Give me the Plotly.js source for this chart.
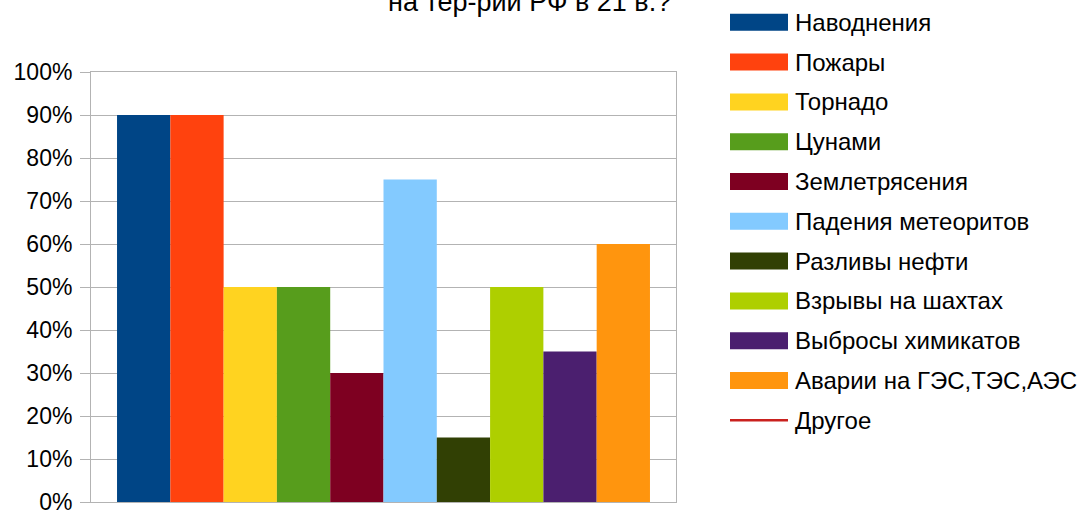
<!DOCTYPE html>
<html>
<head>
<meta charset="utf-8">
<script src="https://cdn.plot.ly/plotly-3.0.1.min.js"></script>
<style>html,body{margin:0;padding:0;background:#fff;}#chart{width:1085px;height:510px;}</style>
</head>
<body>
<div id="chart"></div>
<script>
const seriesNames = ["Наводнения","Пожары","Торнадо","Цунами","Землетрясения","Падения метеоритов","Разливы нефти","Взрывы на шахтах","Выбросы химикатов","Аварии на ГЭС,ТЭС,АЭС"];
const seriesValues = [0.90, 0.90, 0.50, 0.50, 0.30, 0.75, 0.15, 0.50, 0.35, 0.60];
const seriesColors = ["#004586","#ff420e","#ffd320","#579d1c","#7e0021","#83caff","#314004","#aecf00","#4b1f6f","#ff950e"];
const otherName = "Другое";
const otherColor = "#c9211e";
const category = [""];
const yTickVals = [0,0.1,0.2,0.3,0.4,0.5,0.6,0.7,0.8,0.9,1.0];
const yTickText = ["0%","10%","20%","30%","40%","50%","60%","70%","80%","90%","100%"];
const titleText = "на тер-рии РФ в 21 в.?";

const FONT = "Liberation Sans, Arial, sans-serif";
const W = 1085, H = 510;
const L = 91, R = 676, T = 72, B = 502;
const px2x = px => (px - L) / (R - L);
const py2y = py => (B - py) / (B - T);

const traces = seriesNames.map((n, i) => ({
  type: "bar", name: n, x: category, y: [seriesValues[i]],
  marker: {color: seriesColors[i], line: {width: 0}},
  showlegend: false, hoverinfo: "none"
}));

// legend built from the series arrays (layout only)
const legNames = seriesNames.concat([otherName]);
const legColors = seriesColors.concat([otherColor]);
const shapes = [];
const annotations = [];
const rowTop = 22.3, rowStep = 39.8, swX0 = 730, swX1 = 788, swH = 17;
legNames.forEach((n, i) => {
  const yc = rowTop + rowStep * i;
  if (i < seriesNames.length) {
    shapes.push({type: "rect", xref: "paper", yref: "paper",
      x0: px2x(swX0), x1: px2x(swX1), y0: py2y(yc + swH / 2), y1: py2y(yc - swH / 2),
      fillcolor: legColors[i], line: {width: 0}, layer: "above"});
  } else {
    shapes.push({type: "line", xref: "paper", yref: "paper",
      x0: px2x(swX0), x1: px2x(swX1), y0: py2y(yc), y1: py2y(yc),
      line: {color: legColors[i], width: 2.5}, layer: "above"});
  }
  annotations.push({text: n, xref: "paper", yref: "paper", x: px2x(793), y: py2y(yc),
    xanchor: "left", yanchor: "middle", showarrow: false,
    font: {family: FONT, size: 24, color: "#000"}});
});
annotations.push({
  text: titleText, xref: "paper", yref: "paper", x: px2x(529), y: py2y(13),
  xanchor: "center", yanchor: "bottom", yshift: -6, showarrow: false,
  font: {family: FONT, size: 27, color: "#000"}
});

const layout = {
  width: W, height: H,
  margin: {l: L, r: W - R, t: T, b: H - B},
  paper_bgcolor: "#fff", plot_bgcolor: "#fff",
  barmode: "group", bargap: 0.089, bargroupgap: 0,
  font: {family: FONT, size: 22, color: "#000"},
  showlegend: false,
  xaxis: {
    showticklabels: false, showgrid: false, zeroline: false,
    showline: true, linecolor: "#b3b3b3", linewidth: 1, mirror: true, ticks: ""
  },
  yaxis: {
    range: [0, 1], tickvals: yTickVals, ticktext: yTickText,
    showgrid: true, gridcolor: "#b3b3b3", gridwidth: 1, zeroline: false,
    showline: true, linecolor: "#b3b3b3", linewidth: 1, mirror: true,
    ticks: "outside", ticklen: 10, tickcolor: "#b3b3b3", ticklabelstandoff: 3,
    ticklabeloverflow: "allow",
    tickfont: {family: FONT, size: 23, color: "#000"}
  },
  shapes: shapes,
  annotations: annotations
};
Plotly.newPlot("chart", traces, layout, {staticPlot: true, displayModeBar: false});
</script>
</body>
</html>
